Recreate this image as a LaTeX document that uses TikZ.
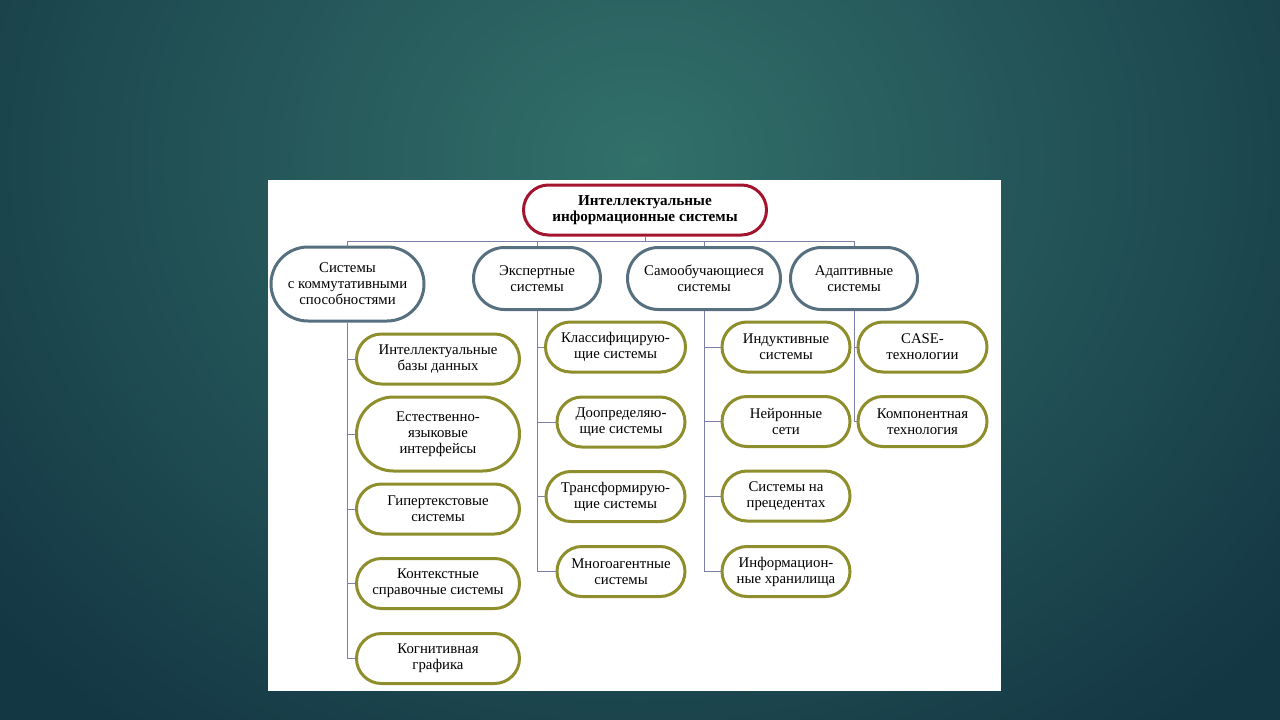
\documentclass[tikz,border=0pt]{standalone}
\usepackage{fontspec}
\setmainfont{Liberation Serif}
\usetikzlibrary{calc}
\definecolor{bgin}{HTML}{32706A}
\definecolor{bgout}{HTML}{143744}
\definecolor{rootc}{HTML}{A3142F}
\definecolor{midc}{HTML}{56707F}
\definecolor{leafc}{HTML}{8E8E2C}
\definecolor{linec}{HTML}{7C80A8}
\tikzset{
  box/.style={draw, line width=3pt, fill=white, align=center, inner sep=0pt,
    font=\fontsize{14.8}{16}\selectfont, text=black},
  rootbox/.style={box, draw=rootc, font=\bfseries\fontsize{15.2}{15.5}\selectfont},
  midbox/.style={box, draw=midc},
  leafbox/.style={box, draw=leafc},
  conn/.style={draw=linec, line width=1pt},
}
\begin{document}
\begin{tikzpicture}[x=1pt,y=-1pt]
\useasboundingbox (0,0) rectangle (1280,720);
\shade[inner color=bgin, outer color=bgout] (-200,-560) rectangle (1480,880);
\fill[white] (268,180) rectangle (1001,691);
% root
\node[rootbox, minimum width=243, minimum height=50, rounded corners=25] (root) at (645,210)
  {Интеллектуальные\\информационные системы};
% level 1
\node[midbox, minimum width=153, minimum height=74, rounded corners=37] (c1) at (347.5,284)
  {Системы\\с коммутативными\\способностями};
\node[midbox, minimum width=127, minimum height=62, rounded corners=31] (c2) at (537,278.5)
  {Экспертные\\системы};
\node[midbox, minimum width=153, minimum height=62, rounded corners=31] (c3) at (704,278.5)
  {Самообучающиеся\\системы};
\node[midbox, minimum width=127, minimum height=62, rounded corners=31] (c4) at (854,278.5)
  {Адаптивные\\системы};
% column 1
\node[leafbox, minimum width=163, minimum height=50, rounded corners=25] (l11) at (438,359)
  {Интеллектуальные\\базы данных};
\node[leafbox, minimum width=163, minimum height=74, rounded corners=37] (l12) at (438,434)
  {Естественно-\\языковые\\интерфейсы};
\node[leafbox, minimum width=163, minimum height=50, rounded corners=25] (l13) at (438,509)
  {Гипертекстовые\\системы};
\node[leafbox, minimum width=163, minimum height=50, rounded corners=25] (l14) at (438,583.5)
  {Контекстные\\справочные системы};
\node[leafbox, minimum width=163, minimum height=50, rounded corners=25] (l15) at (438,658.5)
  {Когнитивная\\графика};
% column 2
\node[leafbox, minimum width=140, minimum height=50, rounded corners=25] (l21) at (615.5,347)
  {Классифицирую-\\щие системы};
\node[leafbox, minimum width=128, minimum height=50, rounded corners=25] (l22) at (621,422)
  {Доопределяю-\\щие системы};
\node[leafbox, minimum width=139, minimum height=50, rounded corners=25] (l23) at (615.5,496.5)
  {Трансформирую-\\щие системы};
\node[leafbox, minimum width=128, minimum height=50, rounded corners=25] (l24) at (621,571.5)
  {Многоагентные\\системы};
% column 3
\node[leafbox, minimum width=128, minimum height=50, rounded corners=25] (l31) at (786,347)
  {Индуктивные\\системы};
\node[leafbox, minimum width=128, minimum height=50, rounded corners=25] (l32) at (786,421.5)
  {Нейронные\\сети};
\node[leafbox, minimum width=128, minimum height=50, rounded corners=25] (l33) at (786,496)
  {Системы на\\прецедентах};
\node[leafbox, minimum width=128, minimum height=50, rounded corners=25] (l34) at (786,571.5)
  {Информацион-\\ные хранилища};
% column 4
\node[leafbox, minimum width=129, minimum height=50, rounded corners=25] (l41) at (922.5,347)
  {CASE-\\технологии};
\node[leafbox, minimum width=129, minimum height=50, rounded corners=25] (l42) at (922.5,421.5)
  {Компонентная\\технология};
% connectors
\coordinate (busL) at (348,241);
\coordinate (busR) at (854,241);
\draw[conn] (busL) -- (busR);
\draw[conn] (root.south) -- (root.south |- busL);
\foreach \c in {c1,c2,c3,c4} \draw[conn] (\c.north) -- (\c.north |- busL);
\draw[conn] (c1.south) -- (c1.south |- l15.west) -- (l15.west);
\foreach \l in {l11,l12,l13,l14} \draw[conn] (\l.west) -- (\l.west -| c1.south);
\draw[conn] (c2.south) -- (c2.south |- l24.west) -- (l24.west);
\foreach \l in {l21,l22,l23} \draw[conn] (\l.west) -- (\l.west -| c2.south);
\draw[conn] (c3.south) -- (c3.south |- l34.west) -- (l34.west);
\foreach \l in {l31,l32,l33} \draw[conn] (\l.west) -- (\l.west -| c3.south);
\draw[conn] (c4.south) -- (c4.south |- l42.west) -- (l42.west);
\draw[conn] (l41.west) -- (l41.west -| c4.south);
\end{tikzpicture}
\end{document}
